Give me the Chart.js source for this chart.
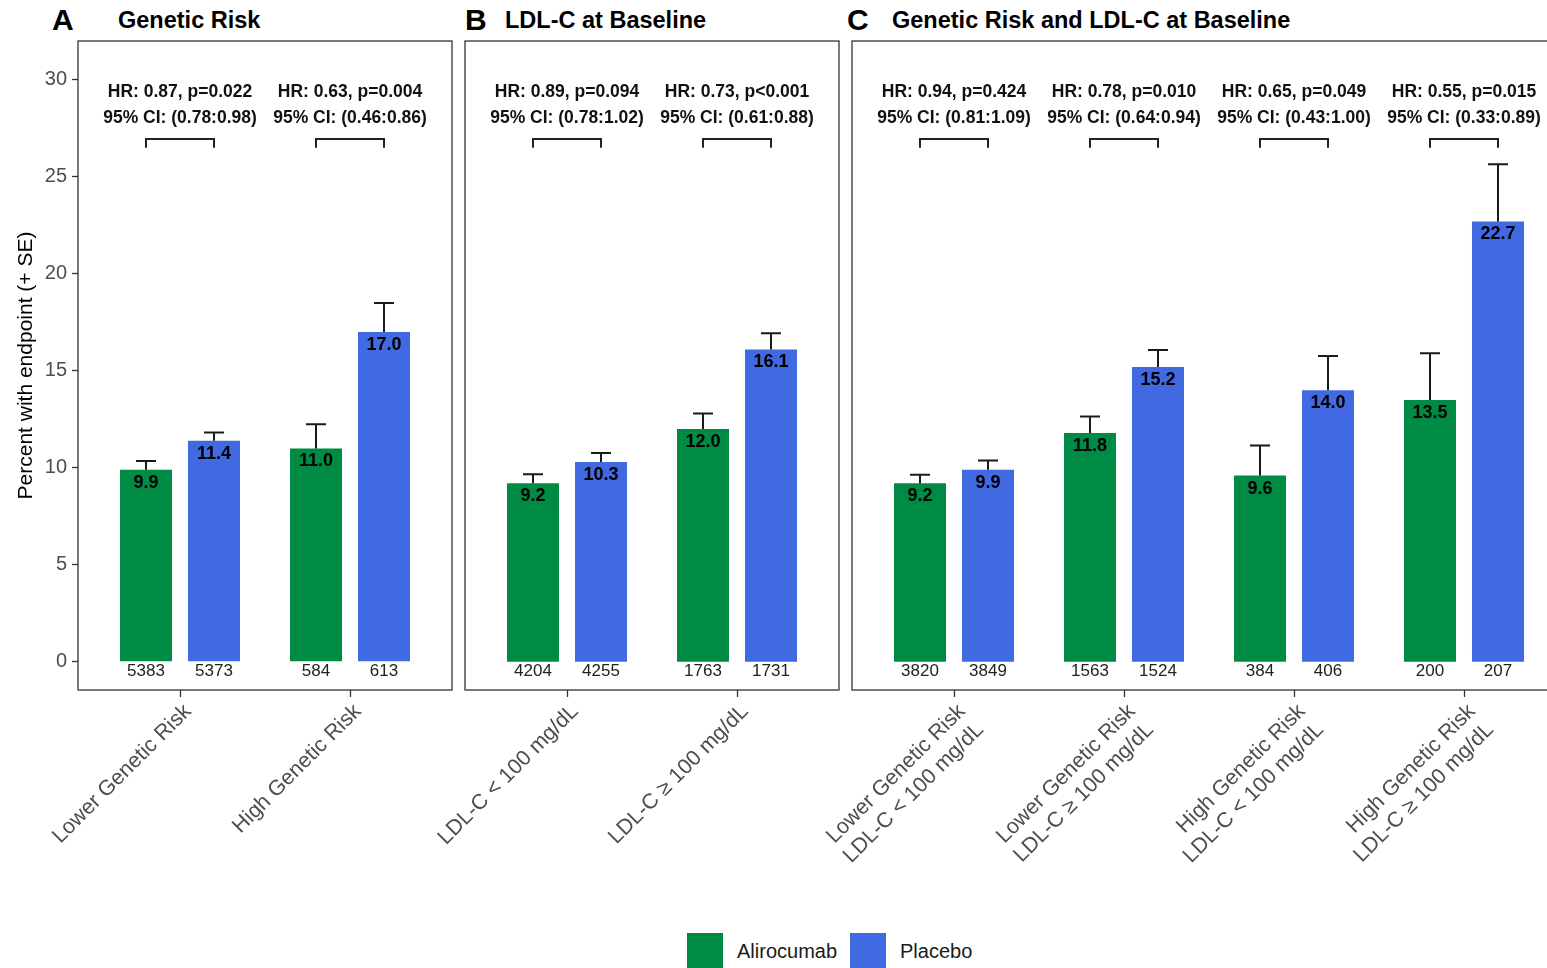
<!DOCTYPE html>
<html>
<head>
<meta charset="utf-8">
<script src="https://cdn.jsdelivr.net/npm/chart.js@4/dist/chart.umd.min.js"></script>
<style>
  body { margin: 0; width: 1547px; height: 968px; overflow: hidden; position: relative; background: #fff; font-family: 'Liberation Sans', Arial, sans-serif; }
  canvas { position: absolute; top: 0; left: 0; }
  .tag { position: absolute; top: 0; line-height: 40px; font-weight: bold; color: #000; white-space: nowrap; }
  .letter { font-size: 30px; }
  .title { font-size: 23.5px; }
  .key { position: absolute; top: 933px; width: 36px; height: 36px; }
  .keytext { position: absolute; top: 939px; font-size: 20px; line-height: 24px; color: #1a1a1a; }
</style>
</head>
<body>
<div class="tag letter" style="left:52px">A</div>
<div class="tag title" style="left:118px">Genetic Risk</div>
<div class="tag letter" style="left:465px">B</div>
<div class="tag title" style="left:505px">LDL-C at Baseline</div>
<div class="tag letter" style="left:847px">C</div>
<div class="tag title" style="left:892px">Genetic Risk and LDL-C at Baseline</div>

<!-- panels overlap on transparent canvases so rotated labels are never cut -->
<canvas id="panelA" width="456" height="900"></canvas>
<canvas id="panelB" width="844" height="900"></canvas>
<canvas id="panelC" width="1577" height="900"></canvas>

<div class="key" style="left:687px; background:#008B45"></div>
<div class="keytext" style="left:737px">Alirocumab</div>
<div class="key" style="left:850px; background:#4169E1"></div>
<div class="keytext" style="left:900px">Placebo</div>

<script>
const seriesNames = ['Alirocumab', 'Placebo'];
const yTicks = [0, 5, 10, 15, 20, 25, 30];

// A: genetic risk
const riskGroups = ['Lower Genetic Risk', 'High Genetic Risk'];
const riskAliro = [9.9, 11.0];
const riskPlacebo = [11.4, 17.0];
const riskAliroSE = [0.45, 1.25];
const riskPlaceboSE = [0.42, 1.5];
const riskAliroN = [5383, 584];
const riskPlaceboN = [5373, 613];
const riskHR = ['HR: 0.87, p=0.022', 'HR: 0.63, p=0.004'];
const riskCI = ['95% CI: (0.78:0.98)', '95% CI: (0.46:0.86)'];

// B: LDL-C at baseline
const ldlGroups = ['LDL-C < 100 mg/dL', 'LDL-C \u2265 100 mg/dL'];
const ldlAliro = [9.2, 12.0];
const ldlPlacebo = [10.3, 16.1];
const ldlAliroSE = [0.47, 0.8];
const ldlPlaceboSE = [0.46, 0.84];
const ldlAliroN = [4204, 1763];
const ldlPlaceboN = [4255, 1731];
const ldlHR = ['HR: 0.89, p=0.094', 'HR: 0.73, p<0.001'];
const ldlCI = ['95% CI: (0.78:1.02)', '95% CI: (0.61:0.88)'];

// C: both
const bothGroups = [
  ['Lower Genetic Risk', 'LDL-C < 100 mg/dL'],
  ['Lower Genetic Risk', 'LDL-C \u2265 100 mg/dL'],
  ['High Genetic Risk', 'LDL-C < 100 mg/dL'],
  ['High Genetic Risk', 'LDL-C \u2265 100 mg/dL']
];
const bothAliro = [9.2, 11.8, 9.6, 13.5];
const bothPlacebo = [9.9, 15.2, 14.0, 22.7];
const bothAliroSE = [0.44, 0.84, 1.55, 2.41];
const bothPlaceboSE = [0.48, 0.88, 1.77, 2.95];
const bothAliroN = [3820, 1563, 384, 200];
const bothPlaceboN = [3849, 1524, 406, 207];
const bothHR = ['HR: 0.94, p=0.424', 'HR: 0.78, p=0.010', 'HR: 0.65, p=0.049', 'HR: 0.55, p=0.015'];
const bothCI = ['95% CI: (0.81:1.09)', '95% CI: (0.64:0.94)', '95% CI: (0.43:1.00)', '95% CI: (0.33:0.89)'];

const colors = ['#008B45', '#4169E1'];
const FONT = "'Liberation Sans', Arial, sans-serif";
Chart.defaults.font.family = FONT;

// border, error bars, labels, HR brackets
function decorations(p) {
  return {
    id: 'decorations',
    afterDatasetsDraw(chart) {
      const { ctx, chartArea: a, scales: { x, y } } = chart;
      const vals = [p.aliro, p.placebo];
      const ses = [p.aliroSE, p.placeboSE];
      const ns = [p.aliroN, p.placeboN];
      ctx.save();
      ctx.strokeStyle = '#333';
      ctx.lineWidth = 1.3;
      ctx.strokeRect(a.left, a.top, a.right - a.left, a.bottom - a.top);

      ctx.textAlign = 'center';
      ctx.textBaseline = 'middle';
      for (let d = 0; d < 2; d++) {
        chart.getDatasetMeta(d).data.forEach((bar, i) => {
          const top = y.getPixelForValue(vals[d][i] + ses[d][i]);
          ctx.strokeStyle = '#1a1a1a';
          ctx.lineWidth = 2;
          ctx.beginPath();
          ctx.moveTo(bar.x, bar.y);
          ctx.lineTo(bar.x, top);
          ctx.moveTo(bar.x - 10, top);
          ctx.lineTo(bar.x + 10, top);
          ctx.stroke();

          ctx.fillStyle = '#000';
          ctx.font = 'bold 18px ' + FONT;
          ctx.fillText(vals[d][i].toFixed(1), bar.x, bar.y + 13);

          ctx.fillStyle = '#222';
          ctx.font = '17px ' + FONT;
          ctx.fillText(String(ns[d][i]), bar.x, y.getPixelForValue(-0.5));
        });
      }

      const m0 = chart.getDatasetMeta(0).data;
      const m1 = chart.getDatasetMeta(1).data;
      p.hr.forEach((t, i) => {
        const xc = x.getPixelForValue(i);
        ctx.fillStyle = '#111';
        ctx.font = 'bold 17.5px ' + FONT;
        ctx.fillText(t, xc, y.getPixelForValue(29.38));
        ctx.fillText(p.ci[i], xc, y.getPixelForValue(28.04));

        const yt = y.getPixelForValue(26.95);
        const yb = y.getPixelForValue(26.5);
        ctx.strokeStyle = '#222';
        ctx.lineWidth = 2;
        ctx.beginPath();
        ctx.moveTo(m0[i].x, yb);
        ctx.lineTo(m0[i].x, yt);
        ctx.lineTo(m1[i].x, yt);
        ctx.lineTo(m1[i].x, yb);
        ctx.stroke();
      });
      ctx.restore();
    }
  };
}

function makePanel(id, p, showY, padLeft, padRight) {
  const n = p.groups.length;
  return new Chart(document.getElementById(id), {
    type: 'bar',
    data: {
      datasets: [
        { label: seriesNames[0], data: p.aliro.map((v, i) => ({ x: i, y: v })), backgroundColor: colors[0] },
        { label: seriesNames[1], data: p.placebo.map((v, i) => ({ x: i, y: v })), backgroundColor: colors[1] }
      ]
    },
    options: {
      responsive: false,
      animation: false,
      events: [],
      categoryPercentage: 0.8,
      barPercentage: 0.765,
      layout: { padding: { left: padLeft, right: padRight, top: 41, bottom: 0 } },
      plugins: { legend: { display: false }, tooltip: { enabled: false } },
      scales: {
        x: {
          type: 'linear',
          offset: false,
          min: -0.6,
          max: n - 0.4,
          afterBuildTicks: s => { s.ticks = p.groups.map((g, i) => ({ value: i })); },
          afterFit: s => {
            s.height = 210;
            // rotated labels may hang outside; keep the plot box fixed
            s.paddingLeft = 0;
            s.paddingRight = 0;
          },
          border: { display: false },
          grid: { offset: false, drawOnChartArea: false, drawTicks: true, tickLength: 7, tickColor: '#333', tickWidth: 1.3 },
          ticks: {
            autoSkip: false,
            minRotation: 45,
            maxRotation: 45,
            padding: 2,
            labelOffset: 8,
            color: '#4D4D4D',
            font: { size: 21.5 },
            callback: v => p.groups[v]
          }
        },
        y: {
          display: showY,
          min: -1.45,
          max: 32.0,
          afterBuildTicks: s => { s.ticks = yTicks.map(v => ({ value: v })); },
          afterFit: s => { s.width = showY ? 78 : 0; },
          border: { display: false },
          grid: { drawOnChartArea: false, drawTicks: true, tickLength: 6, tickColor: '#333', tickWidth: 1.3 },
          ticks: { color: '#4D4D4D', font: { size: 20 }, padding: 5 },
          title: {
            display: true,
            text: 'Percent with endpoint (+ SE)',
            color: '#000',
            font: { size: 21 },
            padding: { top: 14, bottom: 0 }
          }
        }
      }
    },
    plugins: [decorations(p)]
  });
}

makePanel('panelA', {
  groups: riskGroups, aliro: riskAliro, placebo: riskPlacebo,
  aliroSE: riskAliroSE, placeboSE: riskPlaceboSE,
  aliroN: riskAliroN, placeboN: riskPlaceboN, hr: riskHR, ci: riskCI
}, true, 0, 4);

makePanel('panelB', {
  groups: ldlGroups, aliro: ldlAliro, placebo: ldlPlacebo,
  aliroSE: ldlAliroSE, placeboSE: ldlPlaceboSE,
  aliroN: ldlAliroN, placeboN: ldlPlaceboN, hr: ldlHR, ci: ldlCI
}, false, 465, 5);

makePanel('panelC', {
  groups: bothGroups, aliro: bothAliro, placebo: bothPlacebo,
  aliroSE: bothAliroSE, placeboSE: bothPlaceboSE,
  aliroN: bothAliroN, placeboN: bothPlaceboN, hr: bothHR, ci: bothCI
}, false, 852, 11);
</script>
</body>
</html>
